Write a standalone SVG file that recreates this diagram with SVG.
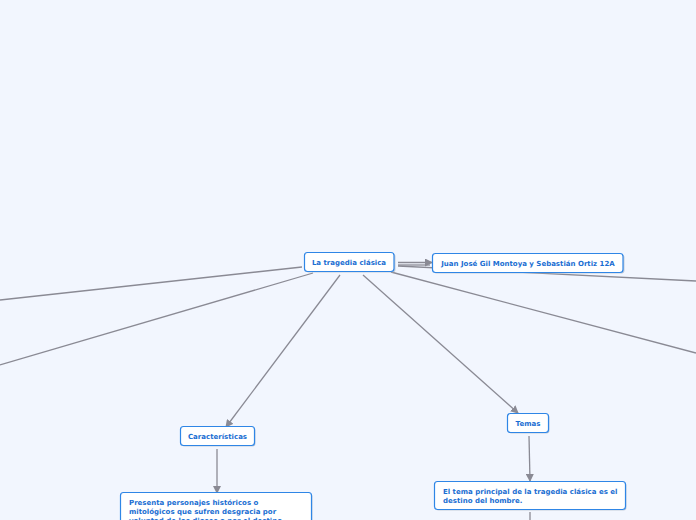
<svg xmlns="http://www.w3.org/2000/svg" width="696" height="520" viewBox="0 0 696 520">
<defs>
<marker id="arr" markerWidth="8" markerHeight="8" refX="7" refY="4" orient="auto" markerUnits="userSpaceOnUse">
<path d="M0,0 L8,4 L0,8 Z" fill="#8a8a94"/>
</marker>
<style>
.bg{fill:#f2f6fe}
.c{stroke:#8a8a94;stroke-width:1.3;fill:none}
.box{fill:#ffffff;stroke:#2f86e6;stroke-width:1.2}
.sh{fill:#a9b4c4;opacity:0.6}
.t{font-family:"DejaVu Sans",Verdana,sans-serif;font-weight:bold;font-size:7px;fill:#1a6ed2}
</style>
</defs>
<rect class="bg" x="0" y="0" width="696" height="520"/>
<g id="connectors">
<line class="c" x1="302" y1="267" x2="0" y2="300"/>
<line class="c" x1="313" y1="273" x2="0" y2="365"/>
<line class="c" x1="340" y1="275" x2="226" y2="427" marker-end="url(#arr)"/>
<line class="c" x1="363" y1="275" x2="518" y2="413" marker-end="url(#arr)"/>
<line class="c" x1="391" y1="272" x2="696" y2="353"/>
<line class="c" x1="398" y1="266" x2="696" y2="281"/>
<line class="c" x1="398" y1="262.5" x2="432" y2="262.5" marker-end="url(#arr)"/>
<line class="c" x1="398" y1="265" x2="430" y2="265"/>
<line class="c" x1="217" y1="449" x2="217" y2="493" marker-end="url(#arr)"/>
<line class="c" x1="529" y1="436" x2="530" y2="481" marker-end="url(#arr)"/>
<line class="c" x1="530" y1="512" x2="530" y2="520"/>
</g>
<g id="n-central">
<rect class="sh" x="305.5" y="253.5" width="90" height="19" rx="3"/>
<rect class="box" x="304.5" y="252.5" width="89.5" height="19" rx="3"/>
<text class="t" x="349" y="264.5" text-anchor="middle">La tragedia clásica</text>
</g>
<g id="n-autores">
<rect class="sh" x="433.5" y="254.5" width="191" height="19" rx="3"/>
<rect class="box" x="432.5" y="253.5" width="190.5" height="19" rx="3"/>
<text class="t" x="528" y="265.5" text-anchor="middle">Juan José Gil Montoya y Sebastián Ortiz 12A</text>
</g>
<g id="n-caracteristicas">
<rect class="sh" x="181.5" y="427.5" width="74" height="19" rx="3"/>
<rect class="box" x="180.5" y="426.5" width="74" height="19" rx="3"/>
<text class="t" x="217.5" y="438.5" text-anchor="middle">Características</text>
</g>
<g id="n-temas">
<rect class="sh" x="508.5" y="414.5" width="41" height="19" rx="3"/>
<rect class="box" x="507.5" y="413.5" width="41" height="19" rx="3"/>
<text class="t" x="528" y="425.5" text-anchor="middle">Temas</text>
</g>
<g id="n-presenta">
<rect class="sh" x="121.5" y="493.5" width="191" height="40" rx="3"/>
<rect class="box" x="120.5" y="492.5" width="191" height="40" rx="3"/>
<text class="t" x="129" y="504.5">Presenta personajes históricos o</text>
<text class="t" x="129" y="513.5">mitológicos que sufren desgracia por</text>
<text class="t" x="129" y="522.5">voluntad de los dioses o por el destino.</text>
</g>
<g id="n-tema">
<rect class="sh" x="435.5" y="482.5" width="191" height="28" rx="3"/>
<rect class="box" x="434.5" y="481.5" width="191" height="28" rx="3"/>
<text class="t" x="443" y="493.5">El tema principal de la tragedia clásica es el</text>
<text class="t" x="443" y="502.5">destino del hombre.</text>
</g>
</svg>
